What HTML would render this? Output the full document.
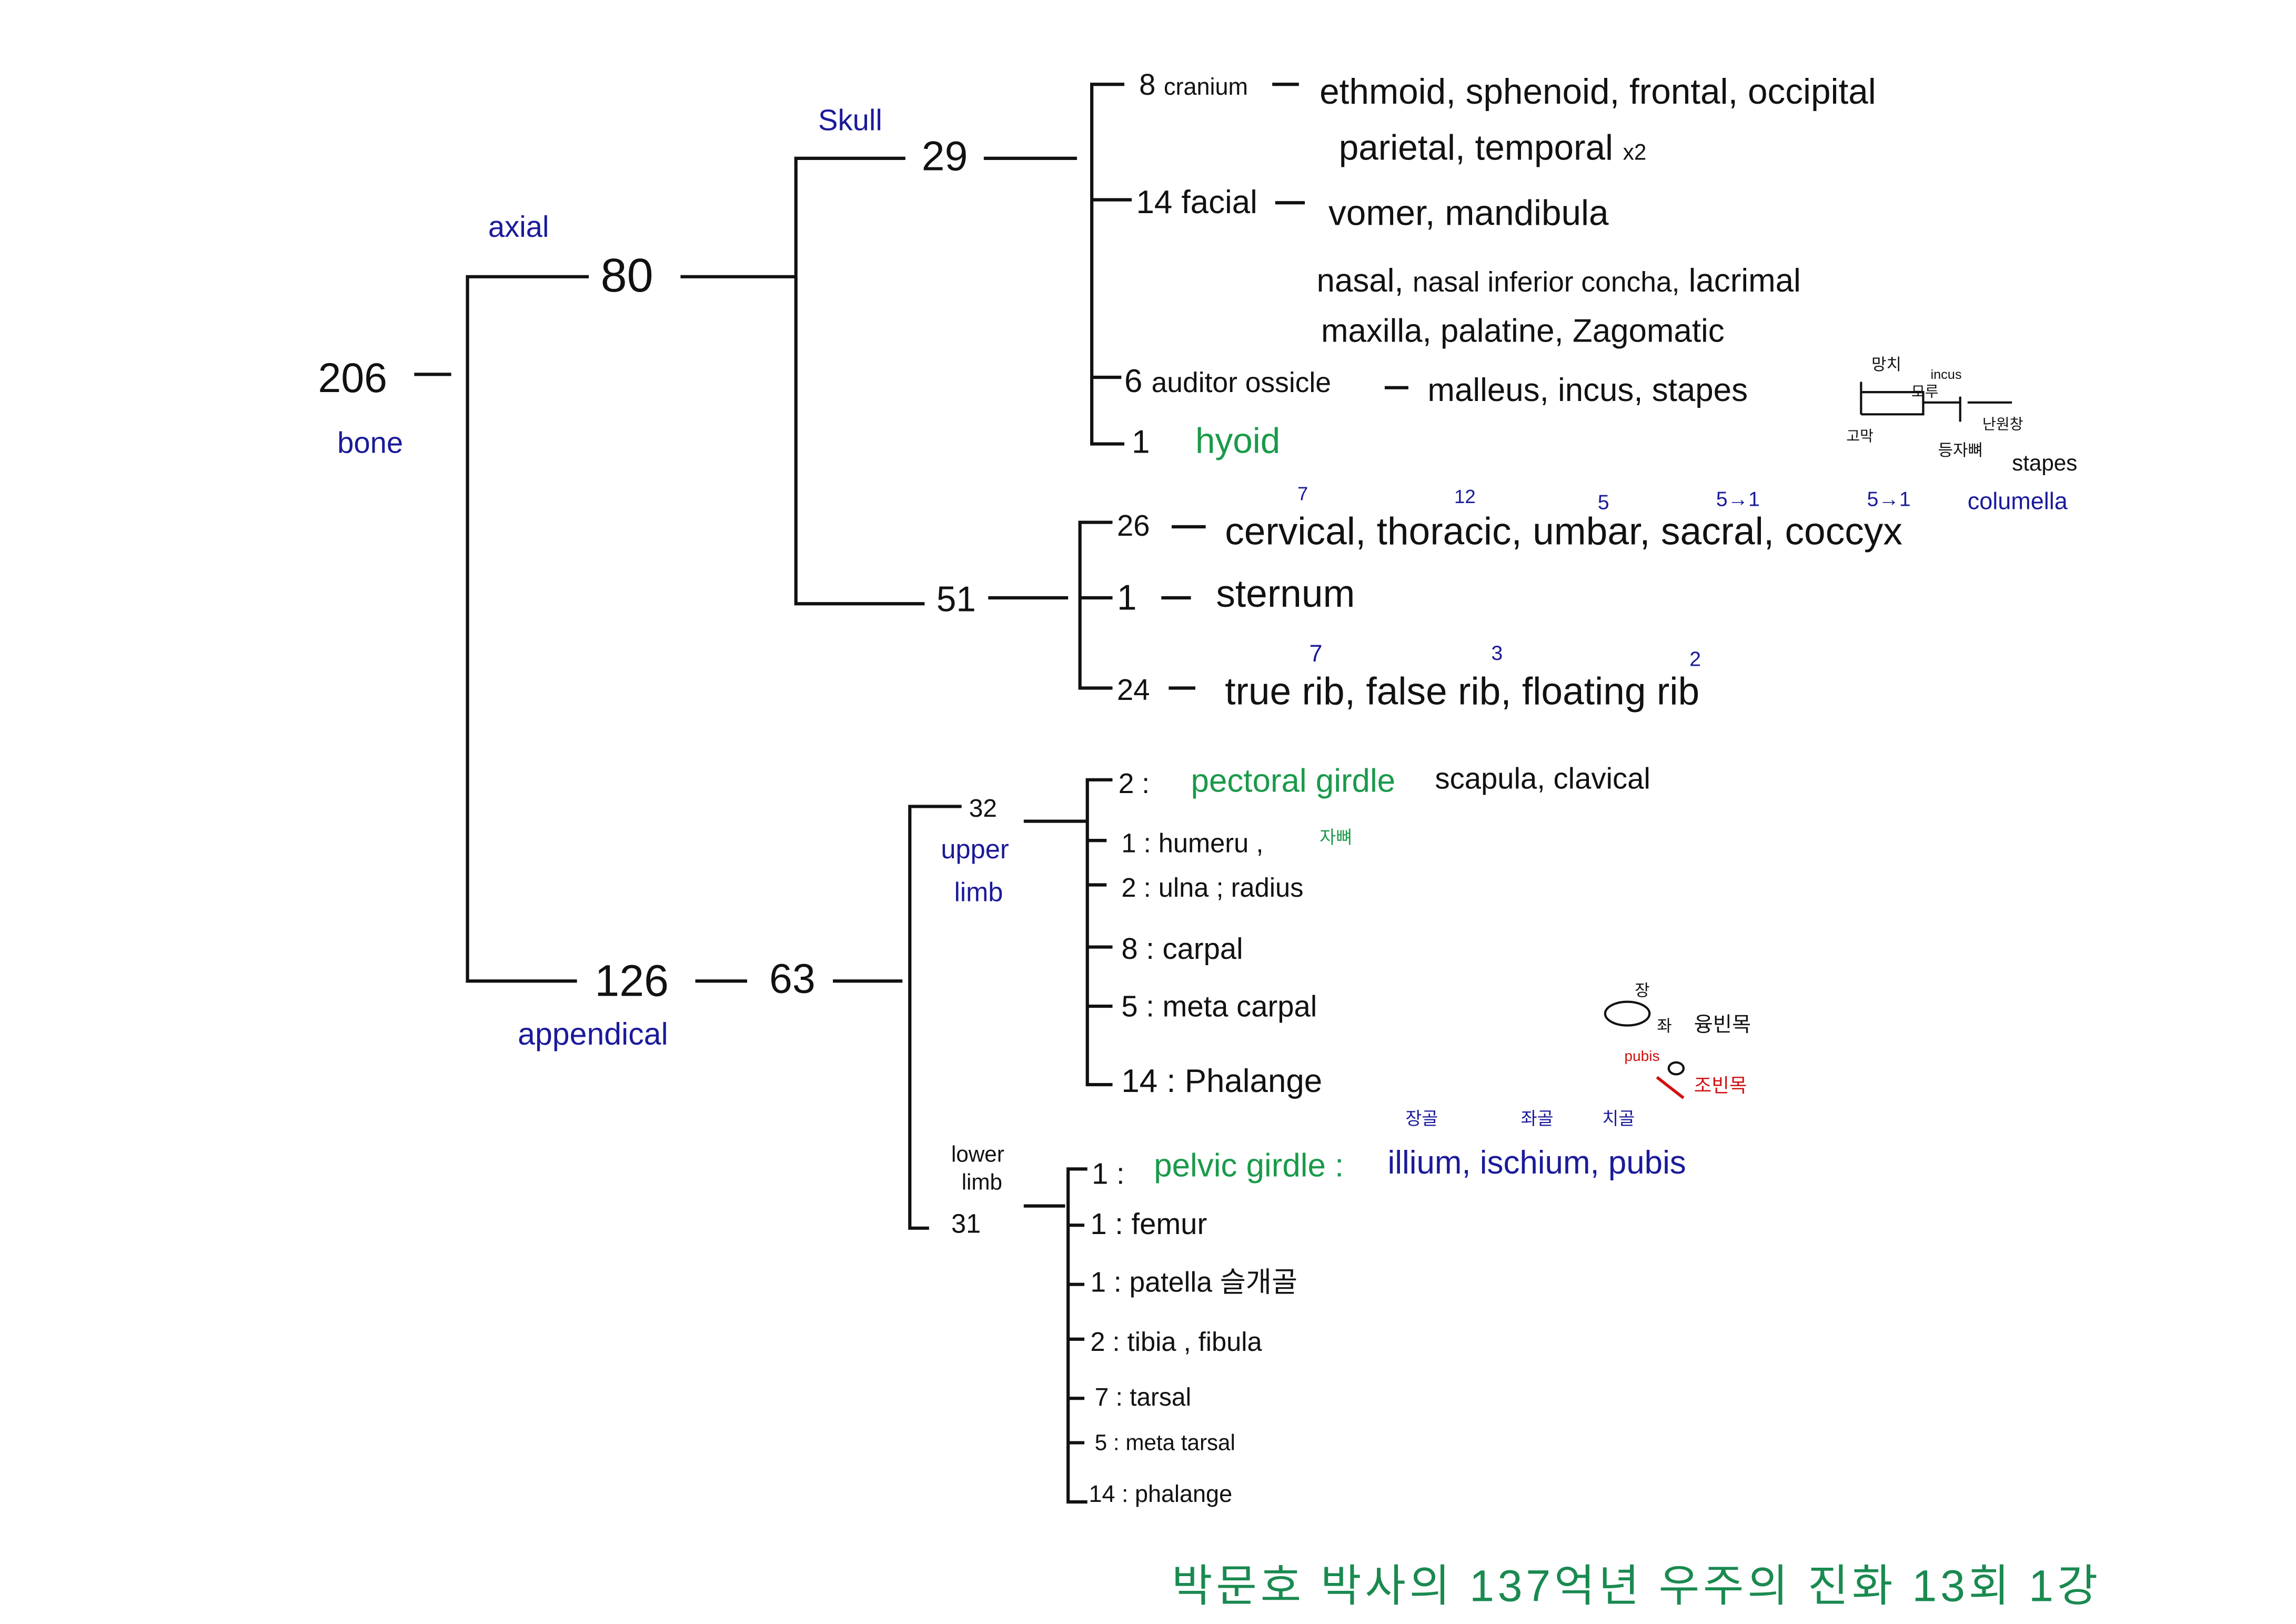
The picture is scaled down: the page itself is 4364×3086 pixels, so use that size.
<!DOCTYPE html>
<html><head><meta charset="utf-8"><style>
html,body{margin:0;padding:0;background:#fff;width:4364px;height:3086px;overflow:hidden}
svg{display:block}
text{font-family:"Liberation Sans","Noto Sans CJK KR",sans-serif;fill:#111}
.b{fill:#1a1a9a}.g{fill:#1a9a4a}.r{fill:#d01010}
</style></head><body>
<svg width="4364" height="3086" viewBox="0 0 1552 1097.5" preserveAspectRatio="none">
<g stroke="#111" stroke-width="2.2" fill="none">
<path d="M280 253H305"/>
<path d="M398 187H316V663H390"/>
<path d="M460 187H538"/>
<path d="M612 107H538V408H625"/>
<path d="M665 107H728"/>
<path d="M760 57H738V300H760M738 135H765M738 255H758"/>
<path d="M860 57H878"/><path d="M862 137H882"/><path d="M936 262H952"/>
<path d="M668 404H722"/>
<path d="M752 353H730V465H752M730 404H752"/>
<path d="M792 356H815"/><path d="M785 404H805"/><path d="M790 465H808"/>
<path d="M470 663H505"/><path d="M563 663H610"/>
<path d="M650 545H615V830H628"/>
<path d="M692 555H735M752 527H735V733H752M735 568H748M735 598H748M735 640H752M735 680H752"/>
<path d="M692 815H720M735 790H722V1015H735M722 828H733M722 868H733M722 905H733M722 945H733M722 975H733"/>
</g>
<text x="215" y="265" font-size="28">206</text>
<text x="228" y="306" font-size="20" class="b">bone</text>
<text x="330" y="160" font-size="20" class="b">axial</text>
<text x="406" y="197" font-size="32">80</text>
<text x="553" y="88" font-size="20" class="b">Skull</text>
<text x="623" y="115" font-size="28">29</text>
<text x="770" y="64" font-size="20">8 <tspan font-size="16">cranium</tspan></text>
<text x="892" y="70" font-size="24">ethmoid, sphenoid, frontal, occipital</text>
<text x="905" y="108" font-size="24">parietal, temporal <tspan font-size="15">x2</tspan></text>
<text x="768" y="144" font-size="22">14 facial</text>
<text x="898" y="152" font-size="24">vomer, mandibula</text>
<text x="890" y="197" font-size="22">nasal, <tspan font-size="19">nasal inferior concha,</tspan> lacrimal</text>
<text x="893" y="231" font-size="22">maxilla, palatine, Zagomatic</text>
<text x="760" y="265" font-size="22">6 <tspan font-size="19">auditor ossicle</tspan></text>
<text x="965" y="271" font-size="22">malleus, incus, stapes</text>
<text x="765" y="306" font-size="22">1</text>
<text x="808" y="306" font-size="24" class="g">hyoid</text>
<g stroke="#111" stroke-width="1.5" fill="none"><path d="M1258 258V280M1258 265H1300V280H1258M1300 272H1325M1325 268V285M1330 272H1360"/></g>
<text x="1265" y="250" font-size="11">망치</text><text x="1305" y="256" font-size="9">incus</text>
<text x="1292" y="268" font-size="10">모루</text><text x="1340" y="290" font-size="10">난원창</text>
<text x="1248" y="298" font-size="10">고막</text><text x="1310" y="308" font-size="11">등자뼈</text>
<text x="1360" y="318" font-size="15">stapes</text>
<text x="1330" y="344" font-size="16" class="b">columella</text>
<text x="633" y="413" font-size="24">51</text>
<text x="755" y="362" font-size="20">26</text>
<text x="828" y="368" font-size="26">cervical, thoracic, umbar, sacral, coccyx</text>
<text x="877" y="338" font-size="13" class="b">7</text><text x="983" y="340" font-size="13" class="b">12</text>
<text x="1080" y="344" font-size="14" class="b">5</text><text x="1160" y="342" font-size="14" class="b">5→1</text>
<text x="1262" y="342" font-size="14" class="b">5→1</text>
<text x="755" y="412" font-size="24">1</text>
<text x="822" y="410" font-size="26">sternum</text>
<text x="755" y="473" font-size="20">24</text>
<text x="828" y="476" font-size="26">true rib, false rib, floating rib</text>
<text x="885" y="447" font-size="16" class="b">7</text><text x="1008" y="446" font-size="14" class="b">3</text>
<text x="1142" y="450" font-size="14" class="b">2</text>
<text x="402" y="673" font-size="30">126</text>
<text x="520" y="671" font-size="28">63</text>
<text x="350" y="706" font-size="21" class="b">appendical</text>
<text x="655" y="552" font-size="17">32</text>
<text x="636" y="580" font-size="18" class="b">upper</text>
<text x="645" y="609" font-size="18" class="b">limb</text>
<text x="756" y="536" font-size="19">2 :</text>
<text x="805" y="535" font-size="22" class="g">pectoral girdle</text>
<text x="970" y="533" font-size="20">scapula, clavical</text>
<text x="758" y="576" font-size="18">1 : humeru ,</text>
<text x="892" y="570" font-size="12" class="g">자뼈</text>
<text x="758" y="606" font-size="18">2 : ulna ; radius</text>
<text x="758" y="648" font-size="20">8 : carpal</text>
<text x="758" y="687" font-size="20">5 : meta carpal</text>
<text x="758" y="738" font-size="22">14 : Phalange</text>
<text x="1105" y="673" font-size="11">장</text>
<text x="1120" y="697" font-size="11">좌</text><text x="1145" y="697" font-size="14">융빈목</text>
<text x="1098" y="717" font-size="10" class="r">pubis</text>
<text x="1145" y="738" font-size="13" class="r">조빈목</text>
<g stroke="#111" stroke-width="1.5" fill="none"><ellipse cx="1100" cy="685" rx="15" ry="8"/><ellipse cx="1133" cy="722" rx="5" ry="4"/></g>
<path d="M1120 728L1138 742" stroke="#d01010" stroke-width="2"/>
<text x="950" y="760" font-size="12" class="b">장골</text><text x="1028" y="760" font-size="12" class="b">좌골</text><text x="1083" y="760" font-size="12" class="b">치골</text>
<text x="643" y="785" font-size="15">lower</text>
<text x="650" y="804" font-size="15">limb</text>
<text x="643" y="833" font-size="18">31</text>
<text x="738" y="800" font-size="20">1 :</text>
<text x="780" y="795" font-size="22" class="g">pelvic girdle :</text>
<text x="938" y="793" font-size="22" class="b">illium, ischium, pubis</text>
<text x="737" y="834" font-size="20">1 : femur</text>
<text x="737" y="873" font-size="19">1 : patella 슬개골</text>
<text x="737" y="913" font-size="18">2 : tibia , fibula</text>
<text x="740" y="950" font-size="17">7 : tarsal</text>
<text x="740" y="980" font-size="15">5 : meta tarsal</text>
<text x="736" y="1015" font-size="16">14 : phalange</text>
<text x="792" y="1082" font-size="30" textLength="626" style="fill:#1a8a50">박문호 박사의 137억년 우주의 진화 13회 1강</text>
</svg>
</body></html>
